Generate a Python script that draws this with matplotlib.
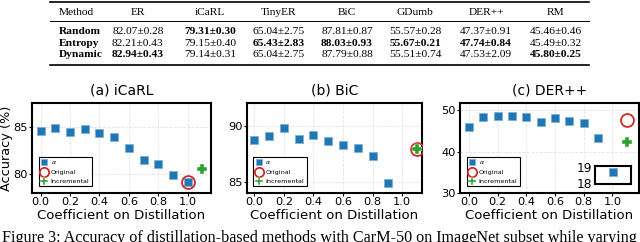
import matplotlib
matplotlib.use("Agg")
import matplotlib.pyplot as plt
from matplotlib.lines import Line2D

# ---------------- data ----------------
table_columns = ["ER", "iCaRL", "TinyER", "BiC", "GDumb", "DER++", "RM"]
table_rows = ["Random", "Entropy", "Dynamic"]
table_random = ["82.07±0.28", "79.31±0.30", "65.04±2.75", "87.81±0.87", "55.57±0.28", "47.37±0.91", "45.46±0.46"]
table_entropy = ["82.21±0.43", "79.15±0.40", "65.43±2.83", "88.03±0.93", "55.67±0.21", "47.74±0.84", "45.49±0.32"]
table_dynamic = ["82.94±0.43", "79.14±0.31", "65.04±2.75", "87.79±0.88", "55.51±0.74", "47.53±2.09", "45.80±0.25"]
bold_random = [False, True, False, False, False, False, False]
bold_entropy = [False, False, True, True, True, True, False]
bold_dynamic = [True, False, False, False, False, False, True]

coef = [0.0, 0.1, 0.2, 0.3, 0.4, 0.5, 0.6, 0.7, 0.8, 0.9, 1.0]

icarl_alpha = [84.58, 84.86, 84.44, 84.79, 84.30, 83.88, 82.73, 81.50, 81.05, 79.96, 79.16]
icarl_original = [1.0, 79.16]
icarl_incremental = [1.1, 80.6]

bic_coef = [0.0, 0.1, 0.2, 0.3, 0.4, 0.5, 0.6, 0.7, 0.8, 0.9]
bic_alpha = [88.74, 89.10, 89.80, 88.80, 89.18, 88.68, 88.33, 88.04, 87.31, 84.95]
bic_original = [1.1, 87.98]
bic_incremental = [1.1, 87.98]

der_coef = [0.0, 0.1, 0.2, 0.3, 0.4, 0.5, 0.6, 0.7, 0.8, 0.9]
der_alpha = [45.95, 48.40, 48.56, 48.70, 48.40, 47.20, 48.10, 47.40, 46.85, 43.30]
der_inset_coef = [1.0]
der_inset_alpha = [18.66]
der_original = [1.1, 47.7]
der_incremental = [1.1, 42.3]

titles = ["(a) iCaRL", "(b) BiC", "(c) DER++"]
caption = "Figure 3: Accuracy of distillation-based methods with CarM-50 on ImageNet subset while varying"

# ---------------- style ----------------
W, H = 640, 242
fig = plt.figure(figsize=(6.4, 2.42), dpi=100)

def fx(px):
    return px / W

def fy(py):
    return 1 - py / H

SERIF = "Liberation Serif"
TFS = 8.2
blue = "#1f77b4"
red = "#d62728"
green = "#2ca02c"

# ---------------- table ----------------
col_x = [138, 210, 279, 347, 415, 486, 556]
row_y = [31, 43, 54.5]
fig.add_artist(Line2D([fx(50), fx(589)], [fy(2), fy(2)], color="black", lw=1.2))
fig.add_artist(Line2D([fx(50), fx(589)], [fy(21), fy(21)], color="black", lw=0.7))
fig.add_artist(Line2D([fx(50), fx(589)], [fy(64.5), fy(64.5)], color="black", lw=1.2))
fig.text(fx(59), fy(12.3), "Method", family=SERIF, fontsize=TFS, ha="left", va="center")
for c, x in zip(table_columns, col_x):
    fig.text(fx(x), fy(12.3), c, family=SERIF, fontsize=TFS, ha="center", va="center")
for name, vals, bolds, y in zip(table_rows,
                                [table_random, table_entropy, table_dynamic],
                                [bold_random, bold_entropy, bold_dynamic], row_y):
    fig.text(fx(59), fy(y), name, family=SERIF, fontsize=TFS, ha="left", va="center", weight="bold")
    for v, b, x in zip(vals, bolds, col_x):
        fig.text(fx(x), fy(y), v, family=SERIF, fontsize=TFS, ha="center", va="center",
                 weight="bold" if b else "normal")

# ---------------- plots ----------------
FS = 9.5
TKS = 8.2
axes_px = [(32, 211), (246.7, 422.3), (460, 639)]
top_px, bot_px = 103, 193

def style_axes(ax):
    for s in ax.spines.values():
        s.set_color("black")
        s.set_linewidth(1.5)
    ax.grid(True, color="#e3e3e3", lw=0.6, ls="--")
    ax.set_axisbelow(True)
    ax.tick_params(labelsize=TKS, length=2, width=0.8, pad=1.2)
    ax.set_xticks([0.0, 0.2, 0.4, 0.6, 0.8, 1.0])
    ax.set_xlabel("Coefficient on Distillation", fontsize=FS, labelpad=0.8)

sq_kw = dict(marker="s", ls="none", ms=5.4, color=blue, mec="#7fb0d8", mew=0.6, zorder=3)
circ_kw = dict(marker="o", ls="none", ms=9.3, mfc="none", mec=red, mew=1.3, zorder=4)
plus_kw = dict(marker="P", ls="none", ms=7.8, color=green, mec="white", mew=0.3, zorder=5)

axs = []
for (l, r) in axes_px:
    ax = fig.add_axes([fx(l), fy(bot_px), fx(r - l), (bot_px - top_px) / H])
    axs.append(ax)

# (a)
ax = axs[0]
ax.plot(coef, icarl_alpha, label=r"$\alpha$", **sq_kw)
ax.plot([icarl_original[0]], [icarl_original[1]], label="Original", **circ_kw)
ax.plot([icarl_incremental[0]], [icarl_incremental[1]], label="Incremental", **plus_kw)
ax.set_xlim(-0.059, 1.159)
ax.set_ylim(78.05, 87.5)
ax.set_yticks([80, 85])
ax.set_ylabel("Accuracy (%)", fontsize=9.3)
ax.yaxis.set_label_coords(-0.107, 0.5)

# (b)
ax = axs[1]
ax.plot(bic_coef, bic_alpha, label=r"$\alpha$", **sq_kw)
ax.plot([bic_original[0]], [bic_original[1]], label="Original", **circ_kw)
ax.plot([bic_incremental[0]], [bic_incremental[1]], label="Incremental", **plus_kw)
ax.set_xlim(-0.051, 1.135)
ax.set_ylim(84.07, 92.0)
ax.set_yticks([85, 90])

# (c)
ax = axs[2]
ax.plot(der_coef, der_alpha, label=r"$\alpha$", **sq_kw)
ax.plot([der_original[0]], [der_original[1]], label="Original", **circ_kw)
ax.plot([der_incremental[0]], [der_incremental[1]], label="Incremental", **plus_kw)
ax.set_xlim(-0.063, 1.186)
ax.set_ylim(30, 51.8)
ax.set_yticks([30, 40, 50])

for ax, t in zip(axs, titles):
    style_axes(ax)
    ax.set_title(t, fontsize=10, pad=6)
    leg = ax.legend(loc="lower left", bbox_to_anchor=(0.03, 0.06), fontsize=4.6,
                    frameon=True, fancybox=False, edgecolor="black", framealpha=1,
                    borderpad=0.4, labelspacing=0.5, handletextpad=0.5,
                    handlelength=1.0, borderaxespad=0.2, markerscale=0.72)
    leg.get_frame().set_linewidth(0.8)

# inset for (c)
ins = fig.add_axes([fx(595), fy(184), fx(630.7 - 595), 18 / H])
ins.plot(der_inset_coef, der_inset_alpha, **sq_kw)
ins.set_xlim(0.9, 1.1)
ins.set_ylim(17.92, 19.06)
ins.set_yticks([18, 19])
ins.set_xticks([])
ins.tick_params(labelsize=TKS + 0.5, length=0, pad=2)
for s in ins.spines.values():
    s.set_color("black")
    s.set_linewidth(1.5)

# caption
fig.text(fx(2), fy(241.5), caption, family=SERIF, fontsize=11.6, ha="left", va="baseline")

fig.savefig("out.png", dpi=100)
